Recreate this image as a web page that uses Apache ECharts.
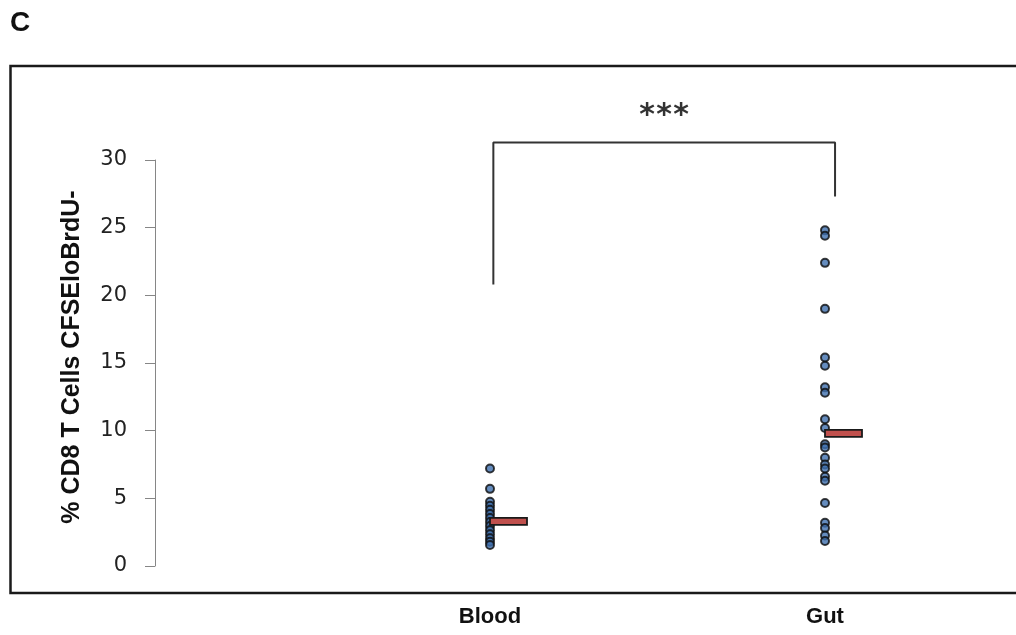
<!DOCTYPE html>
<html>
<head>
<meta charset="utf-8">
<script src="https://cdn.jsdelivr.net/npm/echarts@6/dist/echarts.min.js"></script>
<style>
html,body{margin:0;padding:0;background:#fff;}
#chart{width:1016px;height:635px;}
</style>
</head>
<body>
<div id="chart"></div>
<script>
// ---- data ----
const categories = ['Blood', 'Gut'];
const categoryX = [1, 2];
const bloodValues = [7.2, 5.7, 4.75, 4.45, 4.15, 3.85, 3.55, 3.25, 2.95, 2.65, 2.35, 2.05, 1.8, 1.55];
const gutValues = [24.8, 24.4, 22.4, 19.0, 15.4, 14.8, 13.2, 12.8, 10.85, 10.2, 9.0, 8.75, 8.0, 7.5, 7.2, 6.6, 6.3, 4.65, 3.2, 2.8, 2.25, 1.85];
const meanValues = [3.3, 9.8];
const yTicks = [0, 5, 10, 15, 20, 25, 30];
const yTitle = '% CD8 T Cells CFSEloBrdU-';
const panelLabel = 'C';
const sigLabel = '***';
// bracket in data units: [x, y]
const bracket = [[1.01, 20.8], [1.01, 31.3], [2.03, 31.3], [2.03, 27.3]];

const chart = echarts.init(document.getElementById('chart'), null, {renderer: 'canvas'});

const pointStyle = {color: '#3f6fae', borderColor: '#0d0d0d', borderWidth: 2};

const option = {
  animation: false,
  backgroundColor: '#fff',
  grid: {left: 155, right: 23.5, top: 160, bottom: 69, containLabel: false},
  xAxis: {
    type: 'value', min: 0, max: 2.5, interval: 1,
    axisLine: {show: false}, axisTick: {show: false}, splitLine: {show: false},
    axisLabel: {
      margin: 40,
      fontFamily: 'Liberation Sans', fontWeight: 'bold', fontSize: 22, color: '#111',
      formatter: function (v) { const i = categoryX.indexOf(v); return i >= 0 ? categories[i] : ''; }
    }
  },
  yAxis: {
    type: 'value', min: yTicks[0], max: yTicks[yTicks.length - 1], interval: 5,
    axisLine: {show: true, lineStyle: {color: '#868686', width: 1}},
    axisTick: {show: true, inside: false, length: 10, lineStyle: {color: '#868686'}},
    splitLine: {show: false},
    axisLabel: {margin: 28, fontFamily: 'DejaVu Sans', fontSize: 21, color: '#222'}
  },
  series: [
    {
      type: 'scatter', symbol: 'circle', symbolSize: 8, itemStyle: pointStyle, z: 3,
      data: bloodValues.map(v => [categoryX[0], v])
    },
    {
      type: 'scatter', symbol: 'circle', symbolSize: 8, itemStyle: pointStyle, z: 3,
      data: gutValues.map(v => [categoryX[1], v])
    },
    {
      type: 'custom', z: 4, silent: true,
      data: meanValues.map((v, i) => [categoryX[i], v]),
      renderItem: function (params, api) {
        const p = api.coord([api.value(0), api.value(1)]);
        return {
          type: 'rect',
          shape: {x: p[0], y: p[1] - 3.5, width: 37, height: 7},
          style: {fill: '#c0504d', stroke: '#1a1a1a', lineWidth: 1.8}
        };
      }
    },
    {
      type: 'line', clip: false, symbol: 'none', silent: true, z: 2,
      lineStyle: {color: '#333', width: 2},
      data: bracket
    }
  ]
};
chart.setOption(option);

const starPos = chart.convertToPixel({gridIndex: 0}, [(bracket[1][0] + bracket[2][0]) / 2, bracket[1][1]]);
const y0 = chart.convertToPixel({gridIndex: 0}, [0, yTicks[0]]);
const y30 = chart.convertToPixel({gridIndex: 0}, [0, yTicks[yTicks.length - 1]]);
const stars = sigLabel.split('').map((s, i) => ({
  type: 'text', x: starPos[0] - 17 + i * 17, y: starPos[1] - 26,
  style: {text: s, font: 'bold 30px "DejaVu Sans"', fill: '#333', textAlign: 'center', textVerticalAlign: 'middle'}
}));

chart.setOption({
  graphic: [
    {type: 'rect', shape: {x: 10.5, y: 66, width: 1030, height: 527}, style: {fill: null, stroke: '#1a1a1a', lineWidth: 2.5}, silent: true},
    {type: 'text', x: 10, y: 9, style: {text: panelLabel, font: 'bold 28px "Liberation Sans"', fill: '#111'}},
    {type: 'text', x: 72, y: (y0[1] + y30[1]) / 2 - 6, rotation: Math.PI / 2,
      style: {text: yTitle, font: 'bold 25px "Liberation Sans"', fill: '#111', textAlign: 'center', textVerticalAlign: 'middle'}},
    ...stars
  ]
});
</script>
</body>
</html>
